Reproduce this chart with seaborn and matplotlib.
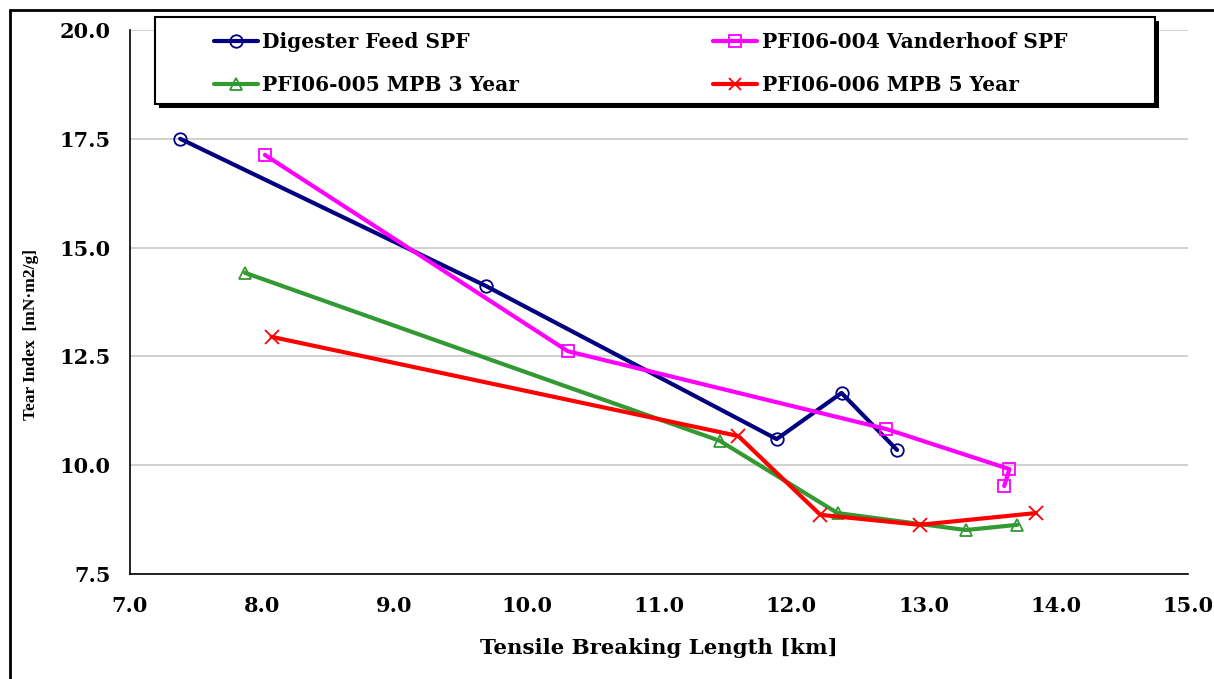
import matplotlib
matplotlib.use("Agg")
import matplotlib.pyplot as plt
from matplotlib.lines import Line2D
from matplotlib.patches import Rectangle
from matplotlib.ticker import MultipleLocator, FormatStrFormatter
import seaborn as sns
import pandas as pd

# Tensile breaking length [km] and tear index [mN·m2/g] per pulp sample
series_names = [
    "Digester Feed SPF",
    "PFI06-004 Vanderhoof SPF",
    "PFI06-005 MPB 3 Year",
    "PFI06-006 MPB 5 Year",
]
digester_x = [7.38, 9.69, 11.89, 12.38, 12.80]
digester_y = [17.50, 14.12, 10.60, 11.66, 10.35]
vanderhoof_x = [8.02, 10.31, 12.72, 13.65, 13.61]
vanderhoof_y = [17.13, 12.62, 10.83, 9.91, 9.52]
mpb3_x = [7.87, 11.46, 12.35, 13.32, 13.71]
mpb3_y = [14.42, 10.56, 8.90, 8.51, 8.63]
mpb5_x = [8.07, 11.60, 12.22, 12.97, 13.85]
mpb5_y = [12.95, 10.67, 8.86, 8.63, 8.90]

x_ticks = [7.0, 8.0, 9.0, 10.0, 11.0, 12.0, 13.0, 14.0, 15.0]
y_ticks = [7.5, 10.0, 12.5, 15.0, 17.5, 20.0]

colors = ["#000080", "#FF00FF", "#339933", "#FF0000"]
markers = ["o", "s", "^", "x"]

frames = []
for name, xs, ys in zip(series_names,
                        [digester_x, vanderhoof_x, mpb3_x, mpb5_x],
                        [digester_y, vanderhoof_y, mpb3_y, mpb5_y]):
    frames.append(pd.DataFrame({"length": xs, "tear": ys, "sample": name}))
df = pd.concat(frames, ignore_index=True)

sns.set_style("white")
plt.rcParams.update({
    "text.color": "black",
    "axes.labelcolor": "black",
    "xtick.color": "black",
    "ytick.color": "black",
})

fig = plt.figure(figsize=(12.14, 6.79), dpi=100)
ax = fig.add_axes([130 / 1214, 1 - 574 / 679, 1058 / 1214, 544 / 679])

for name, col, mk in zip(series_names, colors, markers):
    sub = df[df["sample"] == name]
    sns.lineplot(data=sub, x="length", y="tear", ax=ax, sort=False,
                 estimator=None, color=col, linewidth=3.0, marker=mk,
                 markersize=9 if mk != "x" else 10, markerfacecolor="none",
                 markeredgecolor=col, markeredgewidth=1.3, legend=False)

ax.set_xlim(x_ticks[0], x_ticks[-1])
ax.set_ylim(y_ticks[0], y_ticks[-1])
ax.set_xticks(x_ticks)
ax.set_yticks(y_ticks)
ax.xaxis.set_minor_locator(MultipleLocator(0.5))
ax.xaxis.set_major_formatter(FormatStrFormatter("%.1f"))
ax.yaxis.set_major_formatter(FormatStrFormatter("%.1f"))

ax.grid(axis="y", color="#c8c8c8", linewidth=1.2)
ax.grid(axis="x", visible=False)
ax.set_axisbelow(True)

for side in ["top", "right"]:
    ax.spines[side].set_visible(False)
for side in ["left", "bottom"]:
    ax.spines[side].set_color("black")
    ax.spines[side].set_linewidth(1.2)

ax.tick_params(axis="x", which="major", direction="inout", length=12,
               width=1, pad=10)
ax.tick_params(axis="x", which="minor", direction="in", length=6, width=1)
ax.tick_params(axis="y", which="major", direction="out", length=8,
               width=1, pad=6)
for lab in ax.get_xticklabels() + ax.get_yticklabels():
    lab.set_fontfamily("DejaVu Serif")
    lab.set_fontweight("bold")
    lab.set_fontsize(15)
    lab.set_color("black")

ax.set_xlabel("Tensile Breaking Length [km]", fontfamily="DejaVu Serif",
              fontweight="bold", fontsize=15.3, color="black")
ax.xaxis.set_label_coords(0.5, -(648 - 574) / 544)
ax.xaxis.label.set_va("center")
ax.set_ylabel("Tear Index  [mN\u00b7m2/g]", fontfamily="Liberation Serif",
              fontweight="bold", fontsize=12.5, color="black")
ax.yaxis.set_label_coords(-(130 - 31) / 1058, (574 - 334) / 544)
ax.yaxis.label.set_va("center")

# Legend box with a solid drop shadow
lx0, ly0, lx1, ly1 = 155, 17, 1155, 104
fig.patches.append(Rectangle(((lx0 + 4) / 1214, 1 - (ly1 + 4) / 679),
                             (lx1 - lx0) / 1214, (ly1 - ly0) / 679,
                             transform=fig.transFigure, facecolor="black",
                             edgecolor="none", zorder=5))
fig.patches.append(Rectangle((lx0 / 1214, 1 - ly1 / 679),
                             (lx1 - lx0) / 1214, (ly1 - ly0) / 679,
                             transform=fig.transFigure, facecolor="white",
                             edgecolor="black", linewidth=1.5, zorder=6))

order = [0, 2, 1, 3]
handles = [Line2D([], [], color=colors[i], linewidth=3.0, marker=markers[i],
                  markersize=9, markerfacecolor="none",
                  markeredgecolor=colors[i], markeredgewidth=1.3)
           for i in order]
labels = [series_names[i] for i in order]
leg = fig.legend(handles, labels, ncol=2, mode="expand", frameon=False,
                 loc="upper left",
                 bbox_to_anchor=(214 / 1214, 1 - 112 / 679, 853 / 1214, 80 / 679),
                 borderpad=0, borderaxespad=0, handlelength=2.2,
                 handletextpad=0.2, labelspacing=1.15,
                 prop=dict(family="DejaVu Serif", weight="bold", size=14.5))
leg.set_zorder(7)

# Outer border of the chart area
fig.add_artist(Line2D([10 / 1214, 10 / 1214], [0, 1 - 10 / 679],
                      transform=fig.transFigure, color="black", linewidth=2))
fig.add_artist(Line2D([10 / 1214, 1], [1 - 10 / 679, 1 - 10 / 679],
                      transform=fig.transFigure, color="black", linewidth=2))

fig.savefig("out.png", dpi=100, facecolor="white")
